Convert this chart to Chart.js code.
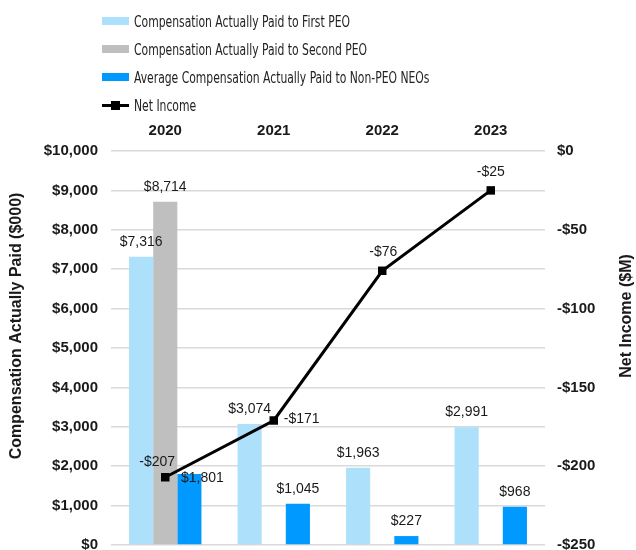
<!DOCTYPE html>
<html lang="en">
  <head>
    <meta charset="UTF-8" />
    <title>Compensation Actually Paid vs Net Income</title>
    <script src="https://cdn.jsdelivr.net/npm/chart.js"></script>
    <style>
      body {
        margin: 0;
        padding: 0;
        background: #fff;
        overflow: hidden;
      }
      .wrap {
        position: relative;
        width: 636px;
        height: 567px;
      }
      .legend {
        position: absolute;
        left: 102px;
        top: 7px;
        font-family: "Liberation Sans Narrow", "DejaVu Sans Condensed", sans-serif;
        font-size: 16px;
        color: #222;
      }
      .legend-item {
        display: flex;
        align-items: center;
        height: 28px;
      }
      .legend-item span {
        display: inline-block;
        transform: scaleX(0.75);
        transform-origin: left center;
        white-space: nowrap;
      }
      .swatch {
        width: 27px;
        height: 8px;
        margin-right: 5px;
        position: relative;
      }
      .swatch.line {
        height: 3px;
        background: #000;
      }
      .swatch.line::after {
        content: "";
        position: absolute;
        left: 9px;
        top: -3px;
        width: 9px;
        height: 9px;
        background: #000;
      }
    </style>
  </head>
  <body>
    <div class="wrap">
      <canvas id="chart" width="636" height="567"></canvas>
      <div class="legend" id="legend"></div>
    </div>

    <script>
      // data
      const years = ["2020", "2021", "2022", "2023"];
      const firstPeo = [7316, 3074, 1963, 2991];
      const secondPeo = [8714, null, null, null];
      const nonPeo = [1801, 1045, 227, 968];
      const netIncome = [-207, -171, -76, -25];

      const fmt = (v) => (v < 0 ? "-" : "") + "$" + Math.abs(v).toLocaleString("en-US");
      const textColor = "#1a1a1a";

      // value labels + axis titles
      const labelPlugin = {
        id: "valueLabels",
        afterDatasetsDraw(chart) {
          const ctx = chart.ctx;
          ctx.save();
          ctx.font = "14px 'Liberation Sans', Arial, sans-serif";
          ctx.fillStyle = textColor;
          ctx.textAlign = "center";
          ctx.textBaseline = "middle";
          chart.data.datasets.forEach((ds, i) => {
            const meta = chart.getDatasetMeta(i);
            meta.data.forEach((el, j) => {
              const v = ds.data[j];
              if (v == null) return;
              const shift = (ds.labelShift && ds.labelShift[j]) || [0, -15];
              ctx.fillText(fmt(v), el.x + shift[0], el.y + shift[1]);
            });
          });

          ctx.font = "bold 16px 'Liberation Sans', Arial, sans-serif";
          ctx.translate(17, 326);
          ctx.rotate(-Math.PI / 2);
          ctx.fillText("Compensation Actually Paid ($000)", 0, 0);
          ctx.setTransform(1, 0, 0, 1, 0, 0);
          ctx.translate(627, 316);
          ctx.rotate(-Math.PI / 2);
          ctx.fillText("Net Income ($M)", 0, 0);
          ctx.restore();
        },
      };

      const tickFont = { family: "'Liberation Sans', Arial, sans-serif", size: 15, weight: "bold" };

      const chart = new Chart(document.getElementById("chart"), {
        type: "bar",
        data: {
          labels: years,
          datasets: [
            {
              label: "Compensation Actually Paid to First PEO",
              data: firstPeo,
              backgroundColor: "#ADE0FA",
              yAxisID: "y",
              order: 1,
            },
            {
              label: "Compensation Actually Paid to Second PEO",
              data: secondPeo,
              backgroundColor: "#BFBFBF",
              yAxisID: "y",
              order: 1,
            },
            {
              label: "Average Compensation Actually Paid to Non-PEO NEOs",
              data: nonPeo,
              backgroundColor: "#0099FF",
              yAxisID: "y",
              order: 1,
              labelShift: [[13, 4]],
            },
            {
              type: "line",
              label: "Net Income",
              data: netIncome,
              yAxisID: "y1",
              borderColor: "#000",
              backgroundColor: "#000",
              borderWidth: 3,
              pointStyle: "rect",
              pointRadius: 6,
              pointBackgroundColor: "#000",
              pointBorderWidth: 0,
              tension: 0,
              order: 0,
              labelShift: [[-8, -15], [28, -1], [1, -19], [0, -18]],
            },
          ],
        },
        options: {
          responsive: false,
          animation: false,
          devicePixelRatio: 1,
          datasets: { bar: { barPercentage: 1, categoryPercentage: 0.667 } },
          layout: { padding: { top: 122, bottom: 15, left: 0, right: 0 } },
          plugins: { legend: { display: false }, tooltip: { enabled: false } },
          scales: {
            x: {
              position: "top",
              grid: { display: false, drawTicks: false },
              border: { display: false },
              ticks: { font: tickFont, color: textColor, padding: 11 },
              afterFit: (s) => {
                s.height = 29;
              },
            },
            y: {
              position: "left",
              min: 0,
              max: 10000,
              ticks: {
                stepSize: 1000,
                padding: 13,
                font: tickFont,
                color: textColor,
                callback: (v) => fmt(v),
              },
              grid: { color: "#D9D9D9", lineWidth: 1.5, drawTicks: false },
              border: { display: false },
              afterFit: (s) => {
                s.width = 111;
              },
            },
            y1: {
              position: "right",
              min: -250,
              max: 0,
              ticks: {
                stepSize: 50,
                padding: 12,
                font: tickFont,
                color: textColor,
                callback: (v) => fmt(v),
              },
              grid: { display: false, drawTicks: false },
              border: { display: false },
              afterFit: (s) => {
                s.width = 91;
              },
            },
          },
        },
        plugins: [labelPlugin],
      });

      // HTML legend, one item per row
      const legend = document.getElementById("legend");
      chart.data.datasets.forEach((ds) => {
        const item = document.createElement("div");
        item.className = "legend-item";
        const sw = document.createElement("div");
        sw.className = ds.type === "line" ? "swatch line" : "swatch";
        if (ds.type !== "line") sw.style.background = ds.backgroundColor;
        const txt = document.createElement("span");
        txt.textContent = ds.label;
        item.appendChild(sw);
        item.appendChild(txt);
        legend.appendChild(item);
      });
    </script>
  </body>
</html>
